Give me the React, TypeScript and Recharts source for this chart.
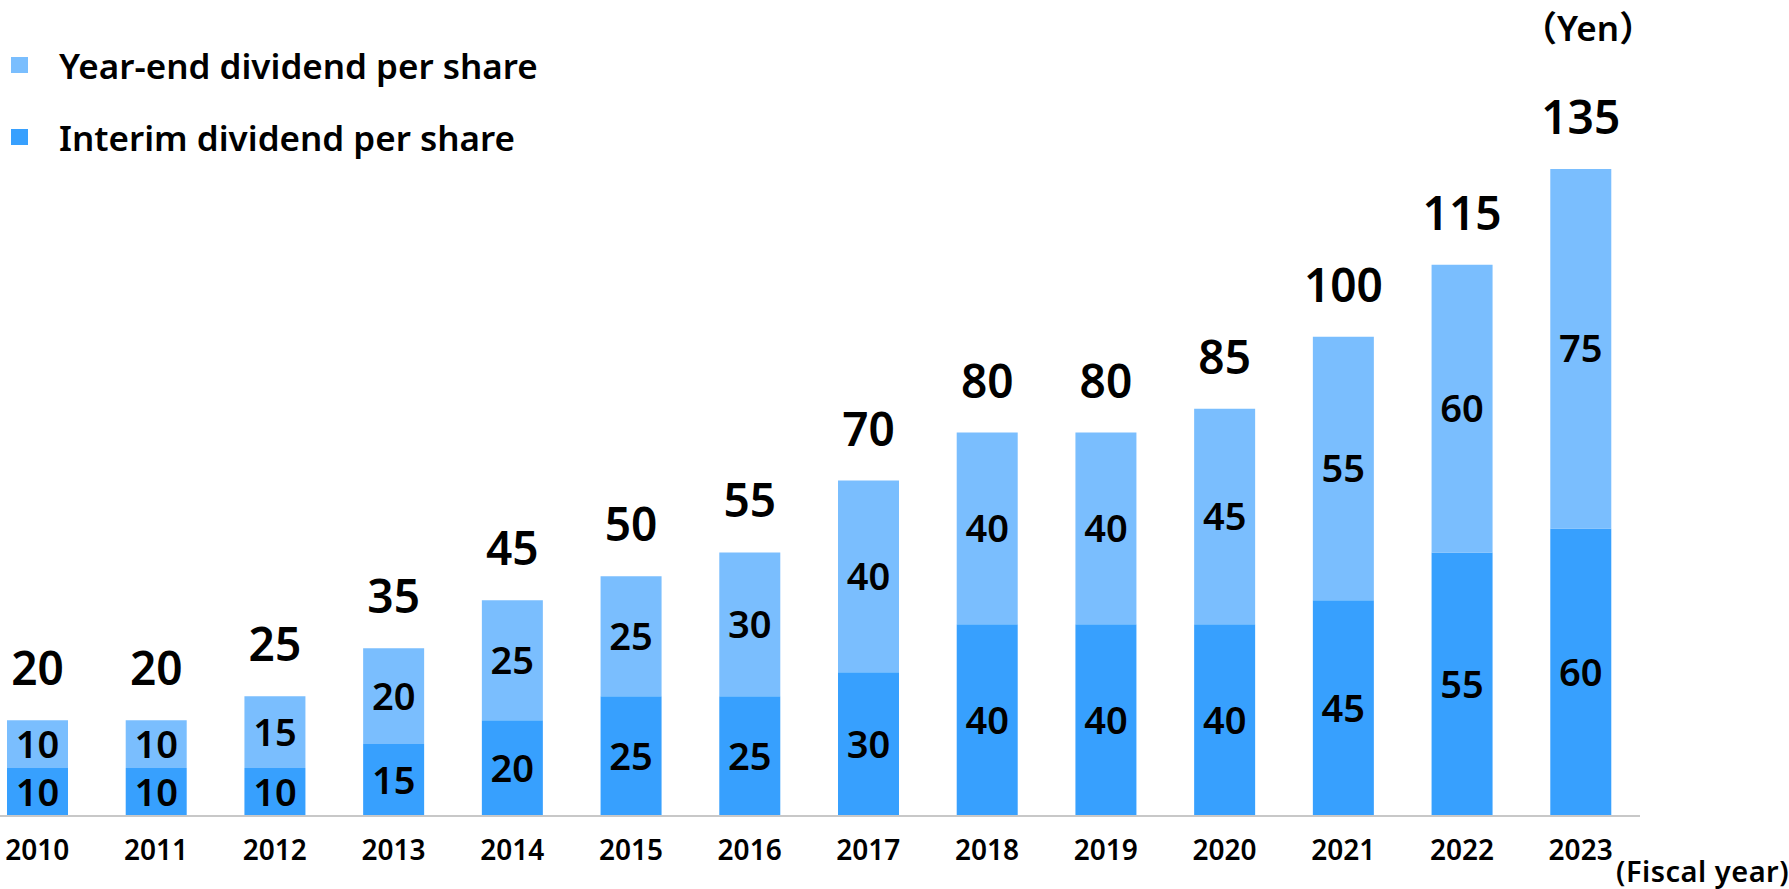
import { Bar, BarChart, XAxis, YAxis, Legend, LabelList } from "recharts"

const years = ["2010", "2011", "2012", "2013", "2014", "2015", "2016", "2017", "2018", "2019", "2020", "2021", "2022", "2023"]
const interim = [10, 10, 10, 15, 20, 25, 25, 30, 40, 40, 40, 45, 55, 60]
const yearEnd = [10, 10, 15, 20, 25, 25, 30, 40, 40, 40, 45, 55, 60, 75]
const totals = [20, 20, 25, 35, 45, 50, 55, 70, 80, 80, 85, 100, 115, 135]

const data = years.map((year, i) => ({
  year,
  interim: interim[i],
  yearEnd: yearEnd[i],
  total: totals[i],
}))

const FONT = "'Noto Sans', 'Noto Sans CJK JP', sans-serif"

function LegendBox(props: any) {
  const items = [...(props.payload || [])].reverse()
  return (
    <div style={{ fontFamily: FONT }}>
      {items.map((item: any) => (
        <div key={item.value} style={{ display: "flex", alignItems: "center", height: 72 }}>
          <span style={{ width: 17, height: 16, background: item.color, marginLeft: 11, marginRight: 31 }} />
          <span style={{ fontSize: 35, fontWeight: 600, color: "#000" }}>{item.value}</span>
        </div>
      ))}
    </div>
  )
}

export default function App() {
  return (
    <div style={{ position: "absolute", left: 0, top: 0, width: 1789, height: 889, background: "#fff", overflow: "hidden" }}>
      <BarChart
        width={1789}
        height={889}
        data={data}
        barSize={61}
        margin={{ top: 169, right: 149, bottom: 43, left: -22 }}
      >
        <XAxis
          dataKey="year"
          height={30}
          stroke="#c8c8c8"
          strokeWidth={2}
          tickLine={false}
          tickMargin={18}
          tick={{ fill: "#000", fontSize: 28, fontWeight: 600, fontFamily: FONT }}
          interval={0}
        />
        <YAxis hide domain={[0, 135]} />
        <Legend
          layout="vertical"
          align="center"
          verticalAlign="middle"
          content={<LegendBox />}
          wrapperStyle={{ left: 0, top: 29, width: 600 }}
        />
        <Bar dataKey="interim" name="Interim dividend per share" stackId="a" fill="#37a0fe" isAnimationActive={false}>
          <LabelList dataKey="interim" position="center" fill="#000" fontSize={38} fontWeight={600} fontFamily={FONT} />
        </Bar>
        <Bar dataKey="yearEnd" name="Year-end dividend per share" stackId="a" fill="#7abefe" isAnimationActive={false}>
          <LabelList dataKey="yearEnd" position="center" fill="#000" fontSize={38} fontWeight={600} fontFamily={FONT} />
          <LabelList dataKey="total" position="top" offset={35} fill="#000" fontSize={46} fontWeight={600} fontFamily={FONT} />
        </Bar>
      </BarChart>
      <div
        style={{
          position: "absolute",
          left: 1522,
          top: 8,
          fontFamily: FONT,
          fontSize: 35,
          fontWeight: 600,
          lineHeight: "40px",
          color: "#000",
          whiteSpace: "nowrap",
        }}
      >
        （Yen）
      </div>
      <div
        style={{
          position: "absolute",
          left: 1616,
          top: 851,
          fontFamily: FONT,
          fontSize: 29,
          fontWeight: 600,
          letterSpacing: 0.5,
          lineHeight: "40px",
          color: "#000",
          whiteSpace: "nowrap",
        }}
      >
        (Fiscal year)
      </div>
    </div>
  )
}
